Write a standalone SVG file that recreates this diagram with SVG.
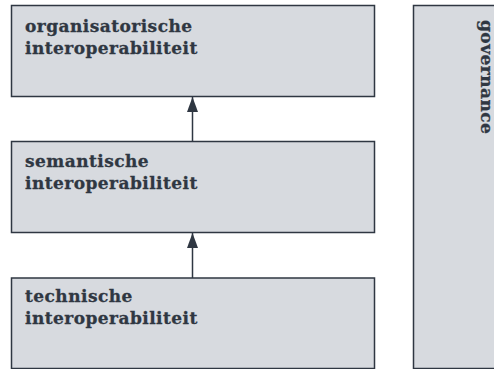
<svg xmlns="http://www.w3.org/2000/svg" width="494" height="369" viewBox="0 0 494 369">
<defs>
<style>
.box{fill:#d7dadf;stroke:#2f3742;stroke-width:1.5}
.lbl{font-family:"DejaVu Serif","Liberation Serif",serif;font-weight:bold;font-size:17px;letter-spacing:0.45px;fill:#2f3742;stroke:#2f3742;stroke-width:0.3}
.conn{stroke:#2f3742;stroke-width:1.5;fill:none}
</style>
<marker id="ah" viewBox="0 0 15 11" refX="15" refY="5.5" markerWidth="15" markerHeight="11" markerUnits="userSpaceOnUse" orient="auto">
<path d="M0,0 L15,5.5 L0,11 Z" fill="#2f3742"/>
</marker>
</defs>
<rect width="494" height="369" fill="#ffffff"/>
<g id="organisatorisch">
<rect class="box" x="11.5" y="5.5" width="363" height="91"/>
<text class="lbl" x="25" y="32">organisatorische</text>
<text class="lbl" x="25" y="54">interoperabiliteit</text>
</g>
<g id="semantisch">
<rect class="box" x="11.5" y="141.5" width="363" height="91"/>
<text class="lbl" x="25" y="167">semantische</text>
<text class="lbl" x="25" y="189">interoperabiliteit</text>
</g>
<g id="technisch">
<rect class="box" x="11.5" y="278" width="363" height="90.5"/>
<text class="lbl" x="25" y="302">technische</text>
<text class="lbl" x="25" y="324">interoperabiliteit</text>
</g>
<g id="governance">
<rect class="box" x="413.5" y="5.5" width="85" height="363"/>
<text class="lbl" transform="translate(481,20) rotate(90)">governance</text>
</g>
<g id="connectors">
<line class="conn" x1="192.5" y1="141.5" x2="192.5" y2="97" marker-end="url(#ah)"/>
<line class="conn" x1="192.5" y1="278" x2="192.5" y2="233" marker-end="url(#ah)"/>
</g>
</svg>
